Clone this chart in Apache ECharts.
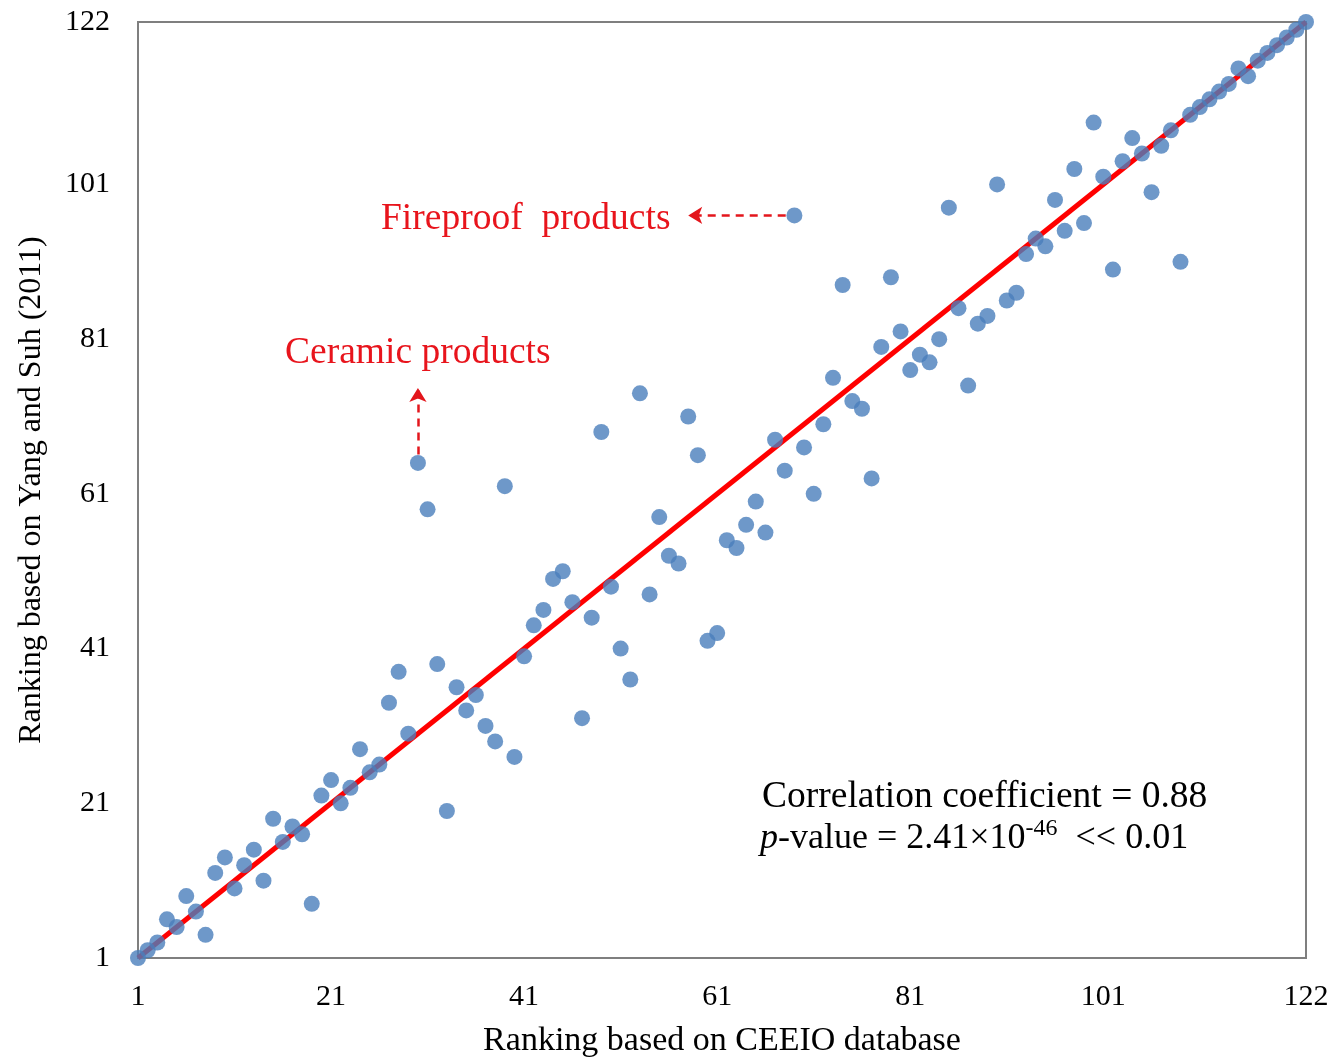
<!DOCTYPE html>
<html>
<head>
<meta charset="utf-8">
<script src="https://cdn.jsdelivr.net/npm/echarts@6/dist/echarts.min.js"></script>
<style>
  html, body { margin: 0; padding: 0; background: #ffffff; }
  #chart { width: 1336px; height: 1060px; }
</style>
</head>
<body>
<div id="chart"></div>
<script>
// Ranking based on CEEIO database (x)
const ceeioRank = [
  1, 2, 3, 4, 5, 6, 7, 8, 9, 10,
  11, 12, 13, 14, 15, 16, 17, 18, 19, 20,
  21, 22, 23, 24, 25, 26, 27, 28, 29, 30,
  31, 32, 33, 34, 35, 36, 37, 38, 39, 40,
  41, 42, 43, 44, 45, 46, 47, 48, 49, 50,
  51, 52, 53, 54, 55, 56, 57, 58, 59, 60,
  61, 62, 63, 64, 65, 66, 67, 68, 69, 70,
  71, 72, 73, 74, 75, 76, 77, 78, 79, 80,
  81, 82, 83, 84, 85, 86, 87, 88, 89, 90,
  91, 92, 93, 94, 95, 96, 97, 98, 99, 100,
  101, 102, 103, 104, 105, 106, 107, 108, 109, 110,
  111, 112, 113, 114, 115, 116, 117, 118, 119, 120,
  121, 122
];
// Ranking based on Yang and Suh (2011) (y)
const yangSuhRank = [
  1, 2, 3, 6, 5, 9, 7, 4, 12, 14,
  10, 13, 15, 11, 19, 16, 18, 17, 8, 22,
  24, 21, 23, 28, 25, 26, 34, 38, 30, 65,
  59, 39, 20, 36, 33, 35, 31, 29, 62, 27,
  40, 44, 46, 50, 51, 47, 32, 45, 69, 49,
  41, 37, 74, 48, 58, 53, 52, 71, 66, 42,
  43, 55, 54, 57, 60, 56, 68, 64, 97, 67,
  61, 70, 76, 88, 73, 72, 63, 80, 89, 82,
  77, 79, 78, 81, 98, 85, 75, 83, 84, 101,
  86, 87, 92, 94, 93, 99, 95, 103, 96, 109,
  102, 90, 104, 107, 105, 100, 106, 108, 91, 110,
  111, 112, 113, 114, 116, 115, 117, 118, 119, 120,
  121, 122
];
// 1:1 reference line (start and end, in ranking units)
const fitLineX = [1, 122];
const fitLineY = [1, 122];
// Axis tick labels
const tickValues = [1, 21, 41, 61, 81, 101, 122];
// Texts
const xTitle = 'Ranking based on CEEIO database';
const yTitle = 'Ranking based on Yang and Suh (2011)';
const fireproofLabel = 'Fireproof  products';
const ceramicLabel = 'Ceramic products';
const corrText = 'Correlation coefficient = 0.88';

const serif = '"Liberation Serif", "Times New Roman", "DejaVu Serif", serif';

const scatterData = ceeioRank.map((x, i) => [x, yangSuhRank[i]]);
const lineData = fitLineX.map((x, i) => [x, fitLineY[i]]);

const chart = echarts.init(document.getElementById('chart'), null, { renderer: 'canvas' });

const axisCommon = {
  type: 'value',
  min: 1,
  max: 122,
  axisLine: { show: true, lineStyle: { color: '#7f7f7f', width: 2 } },
  axisTick: { show: false },
  splitLine: { show: false },
  nameLocation: 'middle'
};

chart.setOption({
  animation: false,
  backgroundColor: '#ffffff',
  grid: {
    left: 138, top: 22, width: 1168, height: 936,
    containLabel: false,
    outerBoundsMode: 'none',
    show: true, borderColor: '#7f7f7f', borderWidth: 2,
    backgroundColor: 'transparent'
  },
  xAxis: Object.assign({}, axisCommon, {
    name: xTitle,
    nameGap: 66,
    nameTextStyle: { fontFamily: serif, fontSize: 34, color: '#000' },
    axisLabel: { customValues: tickValues, fontFamily: serif, fontSize: 30, color: '#000', margin: 24 }
  }),
  yAxis: Object.assign({}, axisCommon, {
    name: yTitle,
    nameGap: 90,
    nameTextStyle: { fontFamily: serif, fontSize: 32, color: '#000' },
    axisLabel: { customValues: tickValues, fontFamily: serif, fontSize: 30, color: '#000', margin: 28 }
  }),
  series: [
    {
      type: 'line',
      data: lineData,
      symbol: 'none',
      silent: true,
      z: 1,
      lineStyle: { color: '#ff0000', width: 5 },
      markLine: {
        silent: true,
        symbol: ['none', 'arrow'],
        symbolSize: [13, 14],
        label: { show: false },
        lineStyle: { type: [8, 6], color: '#e3161c', width: 2.5 },
        data: [
          [{ coord: [68.1, 97] }, { coord: [58, 97] }],
          [{ coord: [30, 66.1] }, { coord: [30, 74.7] }]
        ]
      }
    },
    {
      type: 'scatter',
      data: scatterData,
      symbol: 'circle',
      symbolSize: 16,
      z: 3,
      itemStyle: { color: '#4a7ebb' }
    }
  ],
  graphic: [
    {
      type: 'text', x: 381, y: 219,
      style: { text: fireproofLabel, font: '37.5px ' + serif, fill: '#e8141c', verticalAlign: 'middle', align: 'left' }
    },
    {
      type: 'text', x: 285, y: 353,
      style: { text: ceramicLabel, font: '37.5px ' + serif, fill: '#e8141c', verticalAlign: 'middle', align: 'left' }
    },
    {
      type: 'text', x: 762, y: 797,
      style: { text: corrText, font: '37.5px ' + serif, fill: '#000', verticalAlign: 'middle', align: 'left' }
    },
    {
      type: 'text', x: 760, y: 837,
      style: {
        text: '{i|p}{n|-value = 2.41×10}{s|-46}{n|  << 0.01}',
        verticalAlign: 'middle', align: 'left',
        rich: {
          i: { fontFamily: serif, fontSize: 36, fontStyle: 'italic', fill: '#000', color: '#000', lineHeight: 40, verticalAlign: 'bottom' },
          n: { fontFamily: serif, fontSize: 36, fill: '#000', color: '#000', lineHeight: 40, verticalAlign: 'bottom' },
          s: { fontFamily: serif, fontSize: 24, fill: '#000', color: '#000', lineHeight: 24, verticalAlign: 'top' }
        }
      }
    }
  ]
});
</script>
</body>
</html>
